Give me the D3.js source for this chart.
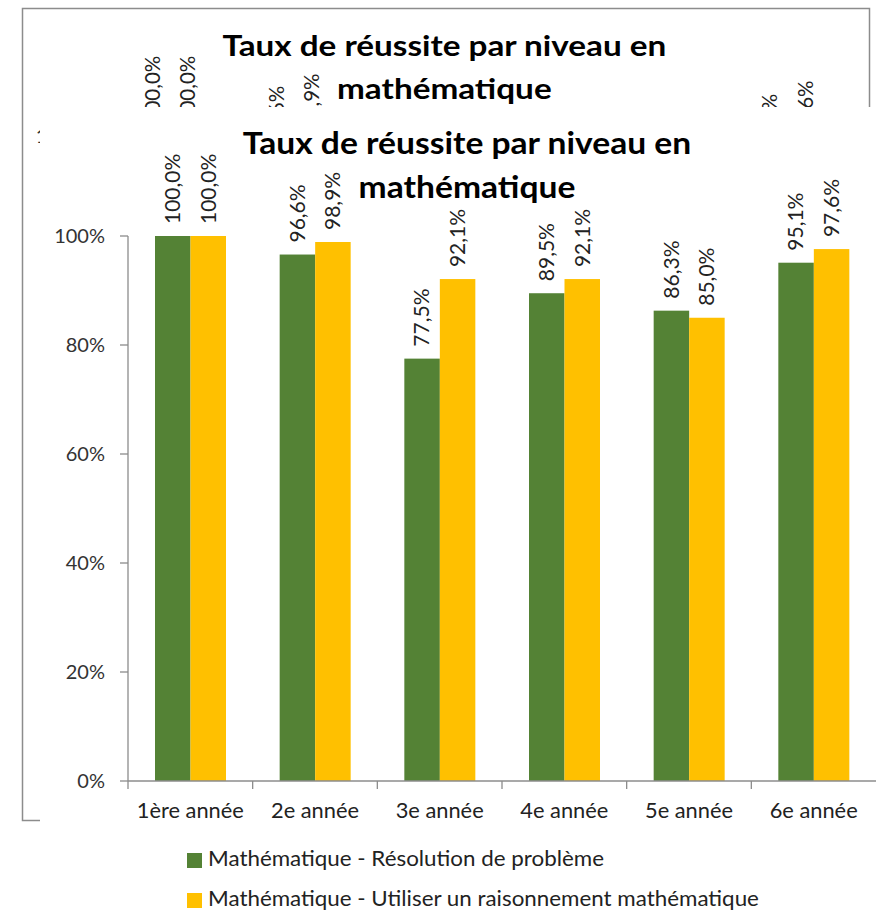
<!DOCTYPE html>
<html>
<head>
<meta charset="utf-8">
<script src="https://cdn.jsdelivr.net/npm/d3@7"></script>
<style>
  html, body { margin: 0; padding: 0; background: #fff; }
  svg { display: block; font-family: Lato, "Open Sans", sans-serif; }
</style>
</head>
<body>
<svg id="chart" width="876" height="918"></svg>
<script>
const categories = ["1ère année", "2e année", "3e année", "4e année", "5e année", "6e année"];
const seriesNames = [
  "Mathématique - Résolution de problème",
  "Mathématique - Utiliser un raisonnement mathématique"
];
const resolution = [100.0, 96.6, 77.5, 89.5, 86.3, 95.1];
const raisonnement = [100.0, 98.9, 92.1, 92.1, 85.0, 97.6];
const yTicks = [0, 20, 40, 60, 80, 100];
const titleLines = ["Taux de réussite par niveau en", "mathématique"];
const seriesColors = ["#548235", "#FFC000"];

const svg = d3.select("#chart");
const width = 876;
const height = 918;

const x0 = d3.scaleBand().domain(categories).range([128, 876]);
const x1 = d3.scaleBand().domain([0, 1]).range([27, 98]);
const y = d3.scaleLinear().domain([0, 100]).range([781, 236]);

const fmt = (v) => v.toFixed(1).replace(".", ",") + "%";

// the source image is a little wider than tall, so text gets a horizontal stretch
function wideText(sel, x, y, sx) {
  return sel.attr("transform", (d, i) => `translate(${x(d, i)},${y(d, i)}) scale(${sx},1)`);
}

function drawChart(g, full) {
  const title = g.append("g").attr("class", "title");
  wideText(title.selectAll("text").data(titleLines).join("text"), () => 467, (_, i) => 154 + i * 44, 1.12)
    .attr("text-anchor", "middle")
    .attr("font-size", 30)
    .attr("font-weight", "bold")
    .attr("fill", "#000")
    .text((d) => d);

  // y axis
  const yAxis = g.append("g");
  yAxis.selectAll("text")
    .data(full ? yTicks : [100])
    .join("text")
    .attr("x", 105)
    .attr("y", (d) => y(d))
    .attr("dy", "0.35em")
    .attr("text-anchor", "end")
    .attr("font-size", 20)
    .attr("fill", "#333")
    .text((d) => d + "%");

  // bars
  const rows = categories.map((c, i) => ({ cat: c, values: [resolution[i], raisonnement[i]] }));
  const groups = g.append("g").selectAll("g")
    .data(rows)
    .join("g")
    .attr("transform", (d) => `translate(${x0(d.cat)},0)`);

  groups.selectAll("text")
    .data((d) => d.values.map((v, s) => ({ v, s })))
    .join("text")
    .attr("transform", (d) => `translate(${x1(d.s) + x1.bandwidth() / 2},${y(d.v) - 12}) rotate(-90)`)
    .attr("dy", "0.35em")
    .attr("font-size", 21)
    .attr("fill", "#222")
    .text((d) => fmt(d.v));

  if (!full) return;

  groups.selectAll("rect")
    .data((d) => d.values.map((v, s) => ({ v, s })))
    .join("rect")
    .attr("x", (d) => x1(d.s))
    .attr("width", x1.bandwidth())
    .attr("y", (d) => y(d.v))
    .attr("height", (d) => y(0) - y(d.v))
    .attr("fill", (d) => seriesColors[d.s]);

  yAxis.append("line")
    .attr("x1", 128).attr("x2", 128)
    .attr("y1", y(100)).attr("y2", y(0))
    .attr("stroke", "#8c8c8c").attr("stroke-width", 1.3);
  yAxis.selectAll("line.tick")
    .data(yTicks)
    .join("line")
    .attr("class", "tick")
    .attr("x1", 120).attr("x2", 128)
    .attr("y1", (d) => y(d)).attr("y2", (d) => y(d))
    .attr("stroke", "#8c8c8c").attr("stroke-width", 1.3);

  // x axis
  const xAxis = g.append("g");
  xAxis.append("line")
    .attr("x1", 128).attr("x2", 876)
    .attr("y1", y(0)).attr("y2", y(0))
    .attr("stroke", "#8c8c8c").attr("stroke-width", 1.3);
  xAxis.selectAll("line.tick")
    .data(categories)
    .join("line")
    .attr("class", "tick")
    .attr("x1", (d) => x0(d)).attr("x2", (d) => x0(d))
    .attr("y1", y(0)).attr("y2", y(0) + 8)
    .attr("stroke", "#8c8c8c").attr("stroke-width", 1.3);
  wideText(xAxis.selectAll("text").data(categories).join("text"),
      (d) => x0(d) + x0.bandwidth() / 2, () => 818, 1.04)
    .attr("text-anchor", "middle")
    .attr("font-size", 21)
    .attr("fill", "#222")
    .text((d) => d);

  // legend
  const legend = g.append("g");
  const items = legend.selectAll("g")
    .data(seriesNames)
    .join("g")
    .attr("transform", (_, i) => `translate(187,${853 + i * 40})`);
  items.append("rect")
    .attr("width", 15).attr("height", 15)
    .attr("fill", (_, i) => seriesColors[i]);
  wideText(items.append("text"), () => 21, () => 13, 1.065)
    .attr("font-size", 21)
    .attr("fill", "#222")
    .text((d) => d);
}

// background copy of the chart, mostly hidden under the front one
const back = svg.append("g").attr("transform", "translate(-18,-95) scale(0.99,0.98)");
drawChart(back, false);

svg.append("rect")
  .attr("x", 22.5).attr("y", 8.5)
  .attr("width", 847).attr("height", 812)
  .attr("fill", "none")
  .attr("stroke", "#8c8c8c")
  .attr("stroke-width", 1.5);

svg.append("rect")
  .attr("x", 40).attr("y", 107)
  .attr("width", width - 40).attr("height", height - 107)
  .attr("fill", "#fff");

const front = svg.append("g");
drawChart(front, true);
</script>
</body>
</html>
